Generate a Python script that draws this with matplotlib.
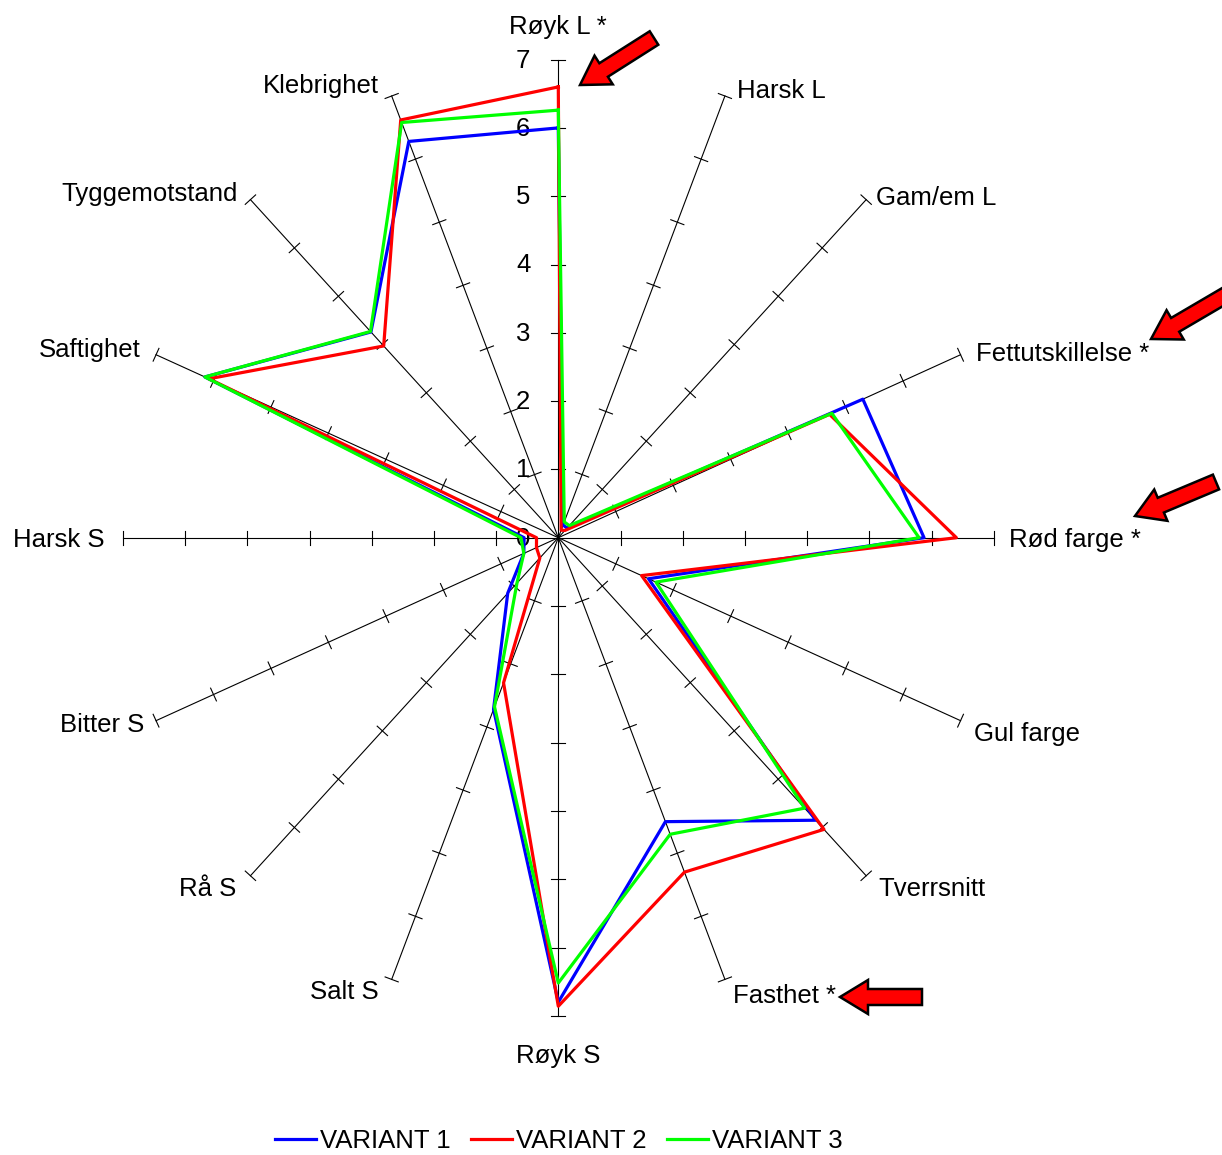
import numpy as np
import matplotlib.pyplot as plt
from matplotlib.patches import FancyArrow

plt.rcParams['font.family'] = ['Liberation Sans', 'DejaVu Sans']

categories = ['Røyk L *', 'Harsk L', 'Gam/em L', 'Fettutskillelse *', 'Rød farge *',
              'Gul farge', 'Tverrsnitt', 'Fasthet *', 'Røyk S', 'Salt S', 'Rå S',
              'Bitter S', 'Harsk S', 'Saftighet', 'Tyggemotstand', 'Klebrighet']
variant1 = [6.0, 0.2, 0.2, 5.3, 5.88, 1.57, 5.85, 4.5, 6.8, 2.72, 1.15, 0.6, 0.55, 6.15, 4.26, 6.28]
variant2 = [6.6, 0.12, 0.15, 4.72, 6.4, 1.45, 6.04, 5.3, 6.86, 2.3, 0.42, 0.38, 0.35, 6.08, 3.97, 6.62]
variant3 = [6.26, 0.25, 0.25, 4.76, 5.8, 1.7, 5.6, 4.7, 6.52, 2.68, 0.94, 0.6, 0.6, 6.15, 4.27, 6.58]
series_names = ['VARIANT 1', 'VARIANT 2', 'VARIANT 3']
scale_ticks = [0, 1, 2, 3, 4, 5, 6, 7]

colors = ['#0000ff', '#ff0000', '#00ff00']
# label offsets in pixels (x, y) from the axis end
label_offsets = [(0, 33), (12, 5), (10, 2), (15, 1), (15, -2), (13, -13), (12, -13), (8, -17),
                 (0, -40), (-13, -13), (-14, -13), (-12, -4), (-18, -2), (-15, 5), (-13, 6), (-13, 10)]

W, H = 1222, 1155
sx, sy = 62.2, 68.3          # pixels per unit, horizontal / vertical
cx, cy = 558.3, 537.7        # centre in pixels (from top)
rmax = 7
lim = 7.5

fig = plt.figure(figsize=(W / 100, H / 100), dpi=100)
left = (cx - lim * sx) / W
bottom = (H - cy - lim * sy) / H
ax = fig.add_axes([left, bottom, 2 * lim * sx / W, 2 * lim * sy / H])
ax.set_xlim(-lim, lim)
ax.set_ylim(-lim, lim)
ax.axis('off')

n = len(categories)
angles = np.arange(n) * 2 * np.pi / n

# spokes with cross ticks
for th, lab, off in zip(angles, categories, label_offsets):
    s, c = np.sin(th), np.cos(th)
    ax.plot([0, rmax * s], [0, rmax * c], color='black', lw=0.8, zorder=1)
    px, py = sx * s, sy * c
    norm = np.hypot(px, py)
    tx, ty = -py / norm * 7 / sx, px / norm * 7 / sy
    for v in range(1, rmax + 1):
        ax.plot([v * s - tx, v * s + tx], [v * c - ty, v * c + ty], color='black', lw=0.8, zorder=1)
    if off[0] > 0:
        ha = 'left'
    elif off[0] < 0:
        ha = 'right'
    else:
        ha = 'center'
    ax.annotate(lab, xy=(rmax * s, rmax * c), xytext=off, textcoords='offset pixels',
                ha=ha, va='center', fontsize=18.5, annotation_clip=False)

for v in scale_ticks:
    ax.annotate(str(v), xy=(0, v), xytext=(-28, -1), textcoords='offset pixels',
                ha='right', va='center', fontsize=18.5)

for vals, col, name in zip([variant1, variant2, variant3], colors, series_names):
    vals = np.array(vals + vals[:1])
    th = np.append(angles, angles[0])
    ax.plot(vals * np.sin(th), vals * np.cos(th), color=col, lw=2.3, label=name, zorder=3)

fig.legend(loc='lower center', bbox_to_anchor=(0.457, -0.018), ncol=3, frameon=False,
           fontsize=18.5, handlelength=1.6, handletextpad=0.15, columnspacing=0.8)

# red arrows pointing at significant attributes
ov = fig.add_axes([0, 0, 1, 1], facecolor='none')
ov.set_xlim(0, W)
ov.set_ylim(H, 0)
ov.axis('off')
arrows = [(654, 38, 580, 85), (1250, 281, 1151, 339), (1216, 482, 1135, 516), (922, 997, 840, 997)]
for x0, y0, x1, y1 in arrows:
    ov.add_patch(FancyArrow(x0, y0, x1 - x0, y1 - y0, width=16, head_width=34, head_length=28,
                            length_includes_head=True, fc='red', ec='black', lw=1.8))

fig.savefig('out.png', dpi=100)
